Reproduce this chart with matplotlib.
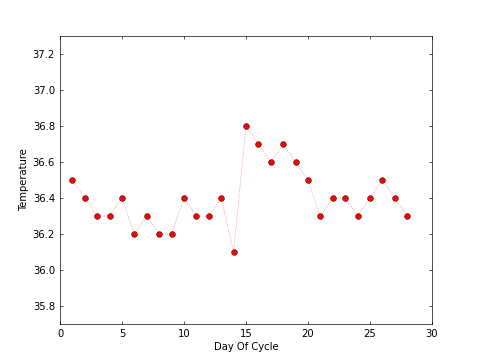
import matplotlib
matplotlib.use("Agg")
import matplotlib.pyplot as plt

days = list(range(1, 29))
temps = [36.5, 36.4, 36.3, 36.3, 36.4, 36.2, 36.3, 36.2, 36.2, 36.4,
         36.3, 36.3, 36.4, 36.1, 36.8, 36.7, 36.6, 36.7, 36.6, 36.5,
         36.3, 36.4, 36.4, 36.3, 36.4, 36.5, 36.4, 36.3]

plt.rcParams['font.size'] = 12
plt.rcParams['xtick.direction'] = 'in'
plt.rcParams['ytick.direction'] = 'in'
plt.rcParams['xtick.top'] = True
plt.rcParams['ytick.right'] = True
plt.rcParams['xtick.major.size'] = 4
plt.rcParams['ytick.major.size'] = 4

fig = plt.figure(figsize=(8, 6), dpi=60)
ax = fig.add_axes([0.125, 0.1, 0.775, 0.8])
ax.plot(days, temps, ':', color='red', alpha=0.5, linewidth=1)
ax.plot(days, temps, 'o', color='red', markeredgecolor='black',
        markeredgewidth=0.5, markersize=7)

ax.set_xlim(0, 30)
ax.set_ylim(35.7, 37.3)
ax.set_xticks([0, 5, 10, 15, 20, 25, 30])
ax.set_yticks([35.8, 36.0, 36.2, 36.4, 36.6, 36.8, 37.0, 37.2])
ax.set_yticklabels(['35.8', '36.0', '36.2', '36.4', '36.6', '36.8', '37.0', '37.2'])
ax.tick_params(pad=6)
ax.set_xlabel('Day Of Cycle')
ax.set_ylabel('Temperature')

fig.savefig('out.png', dpi=60)
